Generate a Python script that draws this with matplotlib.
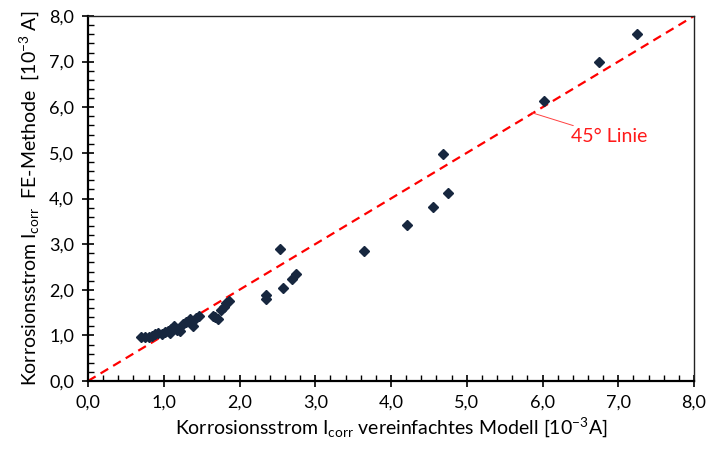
import matplotlib
matplotlib.use("Agg")
import matplotlib.pyplot as plt
from matplotlib.ticker import MultipleLocator

plt.rcParams['font.family'] = ['Lato', 'DejaVu Sans']
plt.rcParams['mathtext.default'] = 'regular'

# Data (10^-3 A)
x_model = [0.70, 0.75, 0.80, 0.85, 0.88, 0.92, 0.98, 1.02, 1.05, 1.08, 1.10, 1.13,
           1.17, 1.22, 1.25, 1.30, 1.35, 1.38, 1.42, 1.46, 1.65, 1.68, 1.72, 1.76,
           1.79, 1.82, 1.86,
           2.35, 2.35, 2.54, 2.58, 2.69, 2.75, 3.64, 4.21, 4.55, 4.68, 4.75,
           6.02, 6.74, 7.25]
y_fe = [0.97, 0.97, 0.97, 0.98, 1.03, 1.05, 1.03, 1.08, 1.10, 1.05, 1.15, 1.20,
        1.12, 1.10, 1.25, 1.30, 1.35, 1.20, 1.38, 1.42, 1.42, 1.40, 1.35, 1.55,
        1.62, 1.70, 1.76,
        1.79, 1.89, 2.89, 2.03, 2.23, 2.35, 2.84, 3.42, 3.81, 4.98, 4.12,
        6.14, 6.99, 7.60]
line_45 = [0.0, 8.0]
tick_vals = [0, 1, 2, 3, 4, 5, 6, 7, 8]
tick_labels = ["0,0", "1,0", "2,0", "3,0", "4,0", "5,0", "6,0", "7,0", "8,0"]

fig = plt.figure(figsize=(7.06, 4.5), dpi=100)
ax = fig.add_axes([88/706, 69/450, 606/706, 365/450])

ax.plot(line_45, line_45, color='#ff0000', linestyle=(0, (4, 2.6)), linewidth=1.6, zorder=2)
ax.plot(x_model, y_fe, linestyle='none', marker='D', markersize=4.6,
        color='#17273f', zorder=3)

ax.annotate("45° Linie", xy=(5.86, 5.88), xytext=(6.38, 5.35),
            color='#ff1a1a', fontsize=14, va='center', ha='left',
            arrowprops=dict(arrowstyle='-', color='#ff4040', linewidth=0.7,
                            shrinkA=0, shrinkB=0))

ax.set_xlim(0, 8)
ax.set_ylim(0, 8)
ax.set_xticks(tick_vals)
ax.set_xticklabels(tick_labels)
ax.set_yticks(tick_vals)
ax.set_yticklabels(tick_labels)
ax.xaxis.set_minor_locator(MultipleLocator(0.2))
ax.yaxis.set_minor_locator(MultipleLocator(0.2))
ax.tick_params(which='major', direction='inout', length=8, width=1.2,
               labelsize=13, colors='black', pad=6)
ax.tick_params(which='minor', direction='in', length=4, width=1.0)

for s in ['left', 'bottom']:
    ax.spines[s].set_linewidth(1.6)
    ax.spines[s].set_color('black')
for s in ['top', 'right']:
    ax.spines[s].set_linewidth(1.0)
    ax.spines[s].set_color('#222222')

ax.set_xlabel("Korrosionsstrom I$_{corr}$ vereinfachtes Modell [10$^{-3}$A]",
              fontsize=14, labelpad=3)
ax.set_ylabel("Korrosionsstrom I$_{corr}$  FE-Methode  [10$^{-3}$ A]",
              fontsize=14, labelpad=6)

fig.savefig("out.png", dpi=100)
